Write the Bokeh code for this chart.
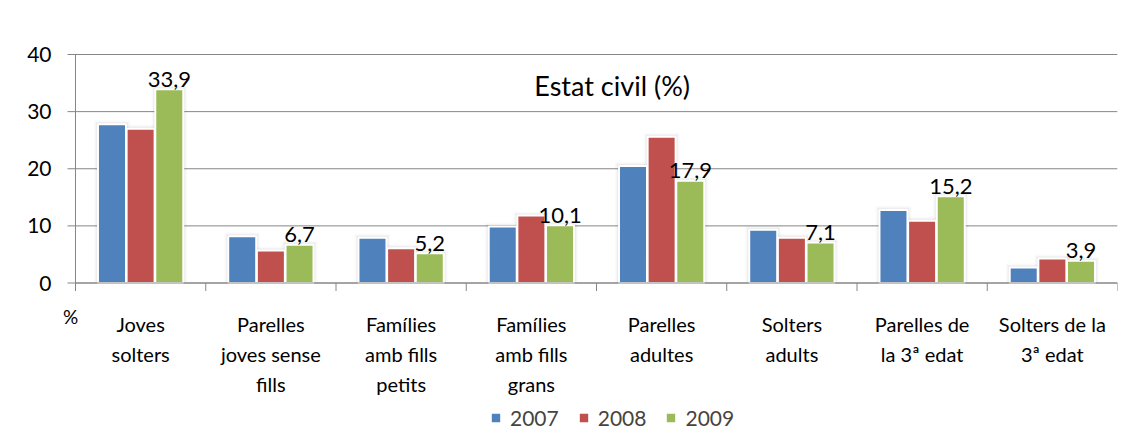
from bokeh.plotting import figure
from bokeh.models import Range1d, Label, Legend, LegendItem, ColumnDataSource
from bokeh.embed import file_html
from bokeh.resources import INLINE
from bokeh.core.properties import value

categories = ["Joves\nsolters", "Parelles\njoves sense\nfills", "Famílies\namb fills\npetits",
              "Famílies\namb fills\ngrans", "Parelles\nadultes", "Solters\nadults",
              "Parelles de\nla 3ª edat", "Solters de la\n3ª edat"]
years = ["2007", "2008", "2009"]
v2007 = [27.8, 8.2, 7.9, 9.9, 20.5, 9.3, 12.8, 2.7]
v2008 = [27.0, 5.7, 6.1, 11.8, 25.6, 7.9, 10.9, 4.3]
v2009 = [33.9, 6.7, 5.2, 10.1, 17.9, 7.1, 15.2, 3.9]
y_ticks = [0, 10, 20, 30, 40]
y_tick_labels = ["0", "10", "20", "30", "40"]
title_text = "Estat civil (%)"
unit_text = "%"

FONT = "Lato"
GRAY = "#868686"
colors = ["#4F81BD", "#C0504D", "#9BBB59"]
offsets = [-0.22, 0.0, 0.22]
BAR_W = 0.215
n = len(categories)

W, H = 1121, 435
AXIS_TOP, AXIS_X, RIGHT = 54, 75, 4     # pixel position of the value 40 line and of the value axis
TOP_PAD = 16                            # frame reaches above 40 so its label is not cut
TOP = AXIS_TOP - TOP_PAD
LEFT = 20                               # frame starts left of the value axis to hold its labels
EXTRA_LEFT = AXIS_X - LEFT
Y_MAX = 40
PX_PER_UNIT = 228.5 / Y_MAX             # vertical scale of the value axis
PX_PER_CAT = (W - AXIS_X - RIGHT) / n
y_end = Y_MAX + TOP_PAD / PX_PER_UNIT
y_min = y_end - (H - TOP) / PX_PER_UNIT  # frame extends below 0 to hold the category labels
x_min = -EXTRA_LEFT / PX_PER_CAT
TICK_PX = 8

p = figure(width=W, height=H, x_range=Range1d(x_min, n), y_range=Range1d(y_min, y_end),
           output_backend="svg", toolbar_location=None, x_axis_location=None, y_axis_location=None,
           min_border_left=LEFT, min_border_right=RIGHT, min_border_top=TOP, min_border_bottom=0)
p.outline_line_color = None
p.background_fill_color = "white"
p.border_fill_color = "white"
p.xgrid.visible = False
p.ygrid.visible = False

tick_dx = TICK_PX / PX_PER_CAT
tick_dy = TICK_PX / PX_PER_UNIT

# horizontal grid lines, each starting with its outward tick on the value axis
p.segment(x0=[-tick_dx] * len(y_ticks), y0=y_ticks, x1=[n] * len(y_ticks), y1=y_ticks,
          line_color=GRAY, line_width=1)
# value axis line
p.segment(x0=[0], y0=[0], x1=[0], y1=[Y_MAX], line_color=GRAY, line_width=1)
# value axis labels
p.text(x=[0] * len(y_ticks), y=y_ticks, text=y_tick_labels, text_align="right",
       text_baseline="middle", x_offset=-(TICK_PX + 16), text_font=value(FONT),
       text_font_size="21px", text_color="#000000")

# soft shadow behind the bars
for glow_px, alpha in [(8, 0.02), (5, 0.03), (3, 0.045)]:
    for vals, off in zip([v2007, v2008, v2009], offsets):
        p.vbar(x=[i + 0.5 + off for i in range(n)], top=[v + glow_px / 2 / PX_PER_UNIT for v in vals],
               bottom=0, width=BAR_W + glow_px / PX_PER_CAT, fill_color="#000000",
               fill_alpha=alpha, line_color=None)

renderers = []
for vals, col, off in zip([v2007, v2008, v2009], colors, offsets):
    src = ColumnDataSource(dict(x=[i + 0.5 + off for i in range(n)], top=vals))
    r = p.vbar(x="x", top="top", bottom=0, width=BAR_W, source=src, fill_color=col,
               line_color="white", line_width=2)
    renderers.append(r)

# baseline redrawn over the bar outlines, and category boundary ticks under it
p.segment(x0=[0], y0=[0], x1=[n], y1=[0], line_color=GRAY, line_width=1)
bounds = list(range(n + 1))
p.segment(x0=bounds, y0=[0] * len(bounds), x1=bounds, y1=[-tick_dy] * len(bounds),
          line_color=GRAY, line_width=1)

# category labels
p.text(x=[i + 0.5 for i in range(n)], y=[0] * n, text=categories, text_align="center",
       text_baseline="top", y_offset=29, text_line_height=1.25, text_font=value(FONT),
       text_font_size="20px", text_color="#000000")

# "%" unit text under the value axis
p.text(x=[-5 / PX_PER_CAT], y=[0], text=[unit_text], text_align="center", text_baseline="middle",
       y_offset=33, text_font=value(FONT), text_font_size="19px", text_color="#000000")

# data labels for 2009
lab_src = ColumnDataSource(dict(x=[i + 0.5 + offsets[2] for i in range(n)], y=v2009,
                                t=[f"{v:.1f}".replace(".", ",") for v in v2009]))
p.text(x="x", y="y", text="t", source=lab_src, text_align="center", text_baseline="alphabetic",
       y_offset=-10, text_font=value(FONT), text_font_size="22px", text_color="#000000")

p.add_layout(Label(x=4.12, y=34.5, text=title_text, text_align="center", text_baseline="middle",
                   text_font=FONT, text_font_size="27px", text_color="#000000"))

legend = Legend(items=[LegendItem(label=y, renderers=[r]) for y, r in zip(years, renderers)],
                orientation="horizontal", location=(469, 5), label_text_font=FONT,
                label_text_font_size="21px", glyph_width=13, glyph_height=13, spacing=18,
                label_standoff=8, border_line_color=None, background_fill_alpha=0,
                padding=0, margin=0)
p.add_layout(legend)

open("out.html", "w").write(file_html(p, INLINE))
